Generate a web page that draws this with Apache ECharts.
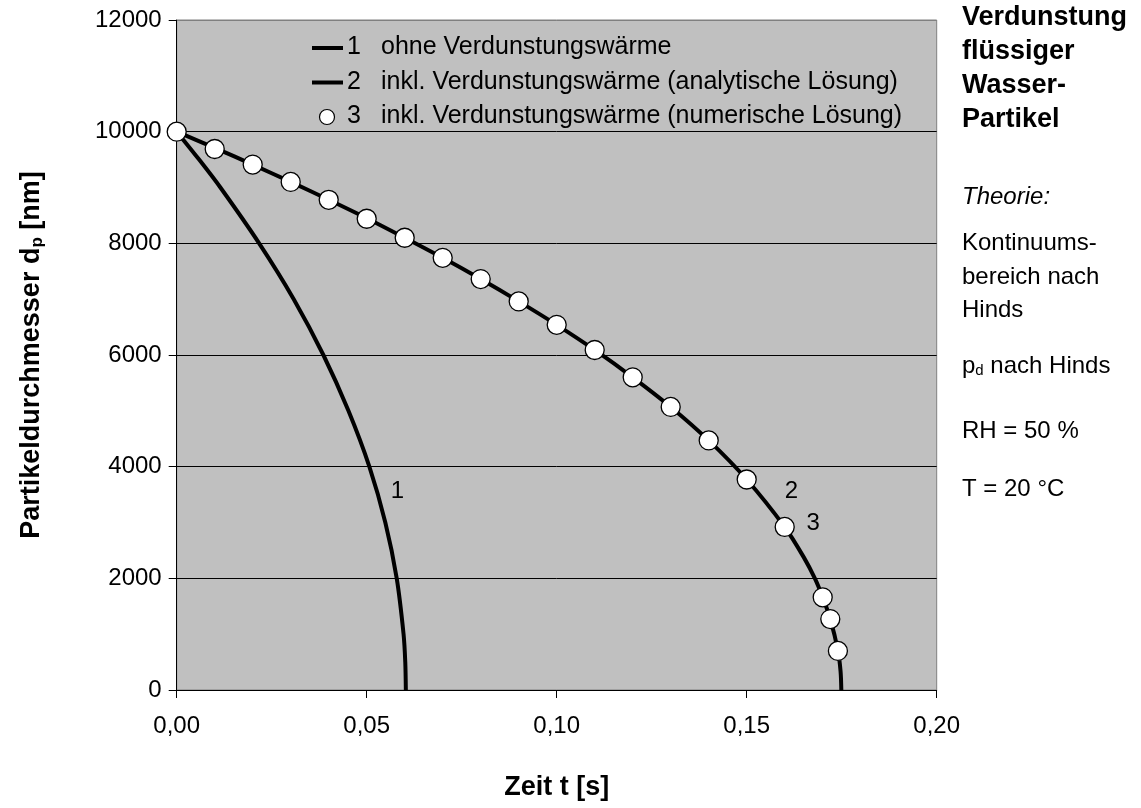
<!DOCTYPE html>
<html>
<head>
<meta charset="utf-8">
<title>Verdunstung flüssiger Wasser-Partikel</title>
<script src="https://cdn.jsdelivr.net/npm/echarts@6/dist/echarts.min.js"></script>
<style>
  html, body { margin: 0; padding: 0; background: #fff; }
  #chart { width: 1141px; height: 808px; }
</style>
</head>
<body>
<div id="chart"></div>
<script>
// Zeit t [s] / Partikeldurchmesser d_p [nm]
const xTicks = [0, 0.05, 0.10, 0.15, 0.20];
const yTicks = [0, 2000, 4000, 6000, 8000, 10000, 12000];

// 1: ohne Verdunstungswärme
const curve1 = [
  [0, 10000], [0.0059, 9500], [0.0115, 9000], [0.0217, 8000], [0.0308, 7000],
  [0.0386, 6000], [0.0452, 5000], [0.0507, 4000], [0.0549, 3000],
  [0.0579, 2000], [0.0597, 1000], [0.06015, 500], [0.0603, 0]
];

// 2: inkl. Verdunstungswärme (analytische Lösung)
const curve2 = [
  [0, 10000], [0.01, 9710], [0.02, 9410], [0.03, 9100], [0.04, 8780],
  [0.05, 8450], [0.06, 8100], [0.07, 7740], [0.08, 7360], [0.09, 6960],
  [0.10, 6540], [0.11, 6090], [0.12, 5600], [0.13, 5070], [0.14, 4470],
  [0.15, 3770], [0.16, 2920], [0.165, 2380], [0.168, 1990], [0.17, 1660],
  [0.172, 1270], [0.174, 710], [0.1747, 335], [0.1749, 0]
];

// 3: inkl. Verdunstungswärme (numerische Lösung)
const numeric3 = [
  [0, 10000], [0.01, 9690], [0.02, 9410], [0.03, 9100], [0.04, 8780],
  [0.05, 8440], [0.06, 8100], [0.07, 7740], [0.08, 7360], [0.09, 6960],
  [0.10, 6540], [0.11, 6090], [0.12, 5600], [0.13, 5070], [0.14, 4470],
  [0.15, 3770], [0.16, 2920], [0.17, 1660], [0.172, 1270], [0.174, 700]
];

// curve number labels: [text, t, d_p]
const curveLabels = [
  ['1', 0.0581, 3550],
  ['2', 0.1618, 3550],
  ['3', 0.1675, 2990]
];

const legendNames = [
  'ohne Verdunstungswärme',
  'inkl. Verdunstungswärme (analytische Lösung)',
  'inkl. Verdunstungswärme (numerische Lösung)'
];

const sideTitle = ['Verdunstung', 'flüssiger', 'Wasser-', 'Partikel'];

const FONT = 'Liberation Sans, Arial, sans-serif';
const FS = 24;     // regular text
const FSL = 25;    // legend text
const FSB = 27;    // bold titles

const chart = echarts.init(document.getElementById('chart'), null, { renderer: 'canvas' });

const lineStyle = { color: '#000', width: 4 };

// side text
const sideGraphics = [];
sideTitle.forEach(function (t, i) {
  sideGraphics.push({
    type: 'text', left: 962, top: 4.5 + i * 33.8,
    style: { text: t, font: 'bold ' + FSB + 'px ' + FONT, fill: '#000' }
  });
});
sideGraphics.push({
  type: 'text', left: 962, top: 185,
  style: { text: 'Theorie:', font: 'italic ' + FS + 'px ' + FONT, fill: '#000' }
});
sideGraphics.push({
  type: 'text', left: 962, top: 227,
  style: { text: 'Kontinuums-\nbereich nach\nHinds', font: FS + 'px ' + FONT, fill: '#000', lineHeight: 33.5 }
});
sideGraphics.push({
  type: 'text', left: 962, top: 354,
  style: {
    text: '{a|p}{s|d}{a| nach Hinds}',
    fill: '#000',
    rich: {
      a: { fontFamily: FONT, fontSize: FS, color: '#000' },
      s: { fontFamily: FONT, fontSize: 15, color: '#000', padding: [10, 0, 0, 0] }
    }
  }
});
sideGraphics.push({
  type: 'text', left: 962, top: 419,
  style: { text: 'RH = 50 %', font: FS + 'px ' + FONT, fill: '#000' }
});
sideGraphics.push({
  type: 'text', left: 962, top: 477,
  style: { text: 'T = 20 °C', font: FS + 'px ' + FONT, fill: '#000' }
});

// in-plot legend
const legendRows = [48, 82.5, 117];
const legendGraphics = [];
legendRows.forEach(function (y, i) {
  if (i < 2) {
    legendGraphics.push({
      type: 'line', z: 100,
      shape: { x1: 312, y1: y, x2: 343, y2: y },
      style: { stroke: '#000', lineWidth: 4 }
    });
  } else {
    legendGraphics.push({
      type: 'circle', z: 100,
      shape: { cx: 327, cy: y, r: 7.5 },
      style: { fill: '#fff', stroke: '#000', lineWidth: 1.2 }
    });
  }
  legendGraphics.push({
    type: 'text', z: 100, left: 347, top: y - 13,
    style: { text: String(i + 1), font: FSL + 'px ' + FONT, fill: '#000' }
  });
  legendGraphics.push({
    type: 'text', z: 100, left: 381, top: y - 13,
    style: { text: legendNames[i], font: FSL + 'px ' + FONT, fill: '#000' }
  });
});

const option = {
  backgroundColor: '#fff',
  animation: false,
  textStyle: { fontFamily: FONT },
  grid: {
    left: 176.7, right: 204.3, top: 20, bottom: 118,
    show: true, backgroundColor: '#c0c0c0', borderColor: '#808080', borderWidth: 1
  },
  xAxis: {
    type: 'value',
    min: xTicks[0], max: xTicks[xTicks.length - 1], interval: 0.05,
    name: 'Zeit t [s]',
    nameLocation: 'middle', nameGap: 84,
    nameTextStyle: { fontFamily: FONT, fontSize: FSB, fontWeight: 'bold', color: '#000' },
    axisLine: { show: true, onZero: false, lineStyle: { color: '#000', width: 1 } },
    axisTick: { show: true, length: 8, lineStyle: { color: '#000' } },
    axisLabel: {
      margin: 24, color: '#000', fontFamily: FONT, fontSize: FS,
      formatter: function (v) { return v.toFixed(2).replace('.', ','); }
    },
    splitLine: { show: false }
  },
  yAxis: {
    type: 'value',
    min: yTicks[0], max: yTicks[yTicks.length - 1], interval: 2000,
    name: '{a|Partikeldurchmesser d}{s|p}{a| [nm]}',
    nameLocation: 'middle', nameGap: 131,
    nameTextStyle: {
      rich: {
        a: { fontFamily: FONT, fontSize: FSB, fontWeight: 'bold', color: '#000' },
        s: { fontFamily: FONT, fontSize: 17, fontWeight: 'bold', color: '#000', padding: [11, 0, 0, 0] }
      }
    },
    axisLine: { show: true, lineStyle: { color: '#000', width: 1 } },
    axisTick: { show: true, length: 8, lineStyle: { color: '#000' } },
    axisLabel: {
      margin: 15, color: '#000', fontFamily: FONT, fontSize: FS,
      formatter: function (v) { return String(v); }
    },
    splitLine: {
      show: true,
      lineStyle: { color: ['#000', '#000', '#000', '#000', '#000', '#000', '#808080'], width: 1 }
    }
  },
  series: [
    {
      name: legendNames[0], type: 'line', data: curve1,
      showSymbol: false, symbol: 'none', smooth: 0.3,
      lineStyle: lineStyle, z: 3
    },
    {
      name: legendNames[1], type: 'line', data: curve2,
      showSymbol: false, symbol: 'none', smooth: 0.3,
      lineStyle: lineStyle, z: 3
    },
    {
      name: legendNames[2], type: 'scatter', data: numeric3,
      symbol: 'circle', symbolSize: 19, z: 5,
      itemStyle: { color: '#fff', borderColor: '#000', borderWidth: 1.3, opacity: 1 }
    },
    {
      name: 'Kurvennummern', type: 'scatter', z: 6, silent: true,
      data: curveLabels.map(function (c) { return { value: [c[1], c[2]], name: c[0] }; }),
      symbol: 'circle', symbolSize: 1,
      itemStyle: { color: 'rgba(0,0,0,0)', opacity: 1 },
      label: {
        show: true, position: 'inside', formatter: '{b}', opacity: 1,
        color: '#000', fontFamily: FONT, fontSize: FS
      }
    }
  ],
  graphic: legendGraphics.concat(sideGraphics)
};

chart.setOption(option);
</script>
</body>
</html>
